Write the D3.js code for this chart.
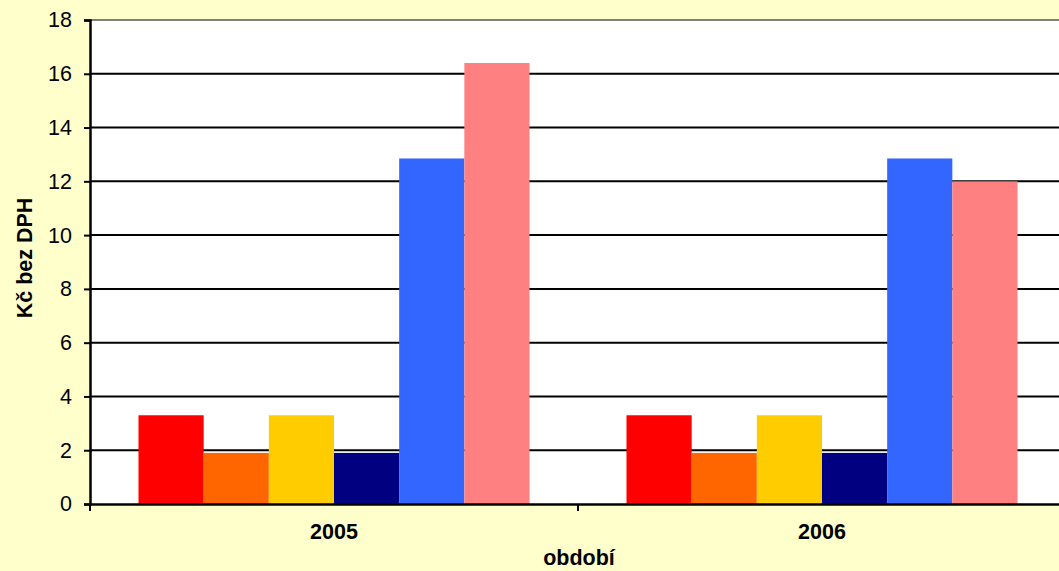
<!DOCTYPE html>
<html>
<head>
<meta charset="utf-8">
<script src="https://cdn.jsdelivr.net/npm/d3@7"></script>
<style>
  body { margin: 0; background: #FFFFCC; }
  svg { display: block; font-family: "Liberation Sans", Arial, sans-serif; }
</style>
</head>
<body>
<svg id="chart" width="1059" height="571"></svg>
<script>
// data
const categories = ['2005', '2006'];
const seriesNames = ['s1', 's2', 's3', 's4', 's5', 's6'];
const seriesColors = ['#FF0000', '#FF6600', '#FFCC00', '#000080', '#3366FF', '#FF8080'];
const values2005 = [3.3, 1.9, 3.3, 1.9, 12.85, 16.4];
const values2006 = [3.3, 1.9, 3.3, 1.9, 12.85, 12.0];
const yTicks = [0, 2, 4, 6, 8, 10, 12, 14, 16, 18];

const valuesByCat = [values2005, values2006];

const svg = d3.select('#chart');
const width = 1059, height = 571;
const margin = {left: 90, top: 20, right: -7, bottom: 67};
const plotW = width - margin.left - margin.right;
const plotH = height - margin.top - margin.bottom;
const fontSize = '21.5px';

svg.append('rect').attr('width', width).attr('height', height).attr('fill', '#FFFFCC');

const g = svg.append('g').attr('transform', `translate(${margin.left},${margin.top})`);

g.append('rect').attr('width', plotW).attr('height', plotH).attr('fill', '#FFFFFF');

let y = d3.scaleLinear().domain([0, 18]).range([plotH, 0]);
let x0 = d3.scaleBand().domain(categories).range([0, plotW]).paddingInner(0).paddingOuter(0);
let x1 = d3.scaleBand().domain(seriesNames).range([48.5, x0.bandwidth() - 48.5]);

// grid
g.selectAll('.grid')
  .data(yTicks.filter(d => d > 0))
  .enter()
  .append('line')
  .attr('x1', 0)
  .attr('x2', plotW)
  .attr('y1', d => y(d))
  .attr('y2', d => y(d))
  .attr('stroke', d => d === 18 ? '#808080' : '#000')
  .attr('stroke-width', 2);

// bars
const groups = g.selectAll('.cat')
  .data(categories)
  .enter()
  .append('g')
  .attr('transform', d => `translate(${x0(d)},0)`);

groups.selectAll('rect')
  .data((d, i) => valuesByCat[i].map((v, j) => ({name: seriesNames[j], value: v, color: seriesColors[j]})))
  .enter()
  .append('rect')
  .attr('x', d => x1(d.name))
  .attr('y', d => y(d.value))
  .attr('width', x1.bandwidth())
  .attr('height', d => plotH - y(d.value))
  .attr('fill', d => d.color);

// y axis
const yAxis = g.append('g')
  .call(d3.axisLeft(y).tickValues(yTicks).tickSize(6).tickPadding(12));
yAxis.select('.domain').attr('stroke', '#000').attr('stroke-width', 2.5);
yAxis.selectAll('.tick line').attr('stroke', '#000').attr('stroke-width', 2);
yAxis.selectAll('.tick text').attr('font-size', fontSize).attr('fill', '#000')
  .attr('font-family', '"Liberation Sans", Arial, sans-serif');

// x axis
const xAxis = g.append('g')
  .attr('transform', `translate(0,${plotH})`)
  .call(d3.axisBottom(x0).tickSize(0).tickPadding(20));
xAxis.select('.domain').attr('stroke', '#000').attr('stroke-width', 2.5);
xAxis.selectAll('.tick text').attr('font-size', fontSize).attr('font-weight', 'bold').attr('fill', '#000')
  .attr('font-family', '"Liberation Sans", Arial, sans-serif');

// category separators
g.selectAll('.sep')
  .data([0, 1])
  .enter()
  .append('line')
  .attr('x1', d => d * x0.bandwidth())
  .attr('x2', d => d * x0.bandwidth())
  .attr('y1', plotH)
  .attr('y2', plotH + 7)
  .attr('stroke', '#000')
  .attr('stroke-width', 2);

// axis titles
svg.append('text')
  .attr('transform', `translate(32,258) rotate(-90)`)
  .attr('text-anchor', 'middle')
  .attr('font-size', fontSize)
  .attr('font-weight', 'bold')
  .text('Kč bez DPH');

svg.append('text')
  .attr('x', 579)
  .attr('y', 565)
  .attr('text-anchor', 'middle')
  .attr('font-size', fontSize)
  .attr('font-weight', 'bold')
  .text('období');
</script>
</body>
</html>
